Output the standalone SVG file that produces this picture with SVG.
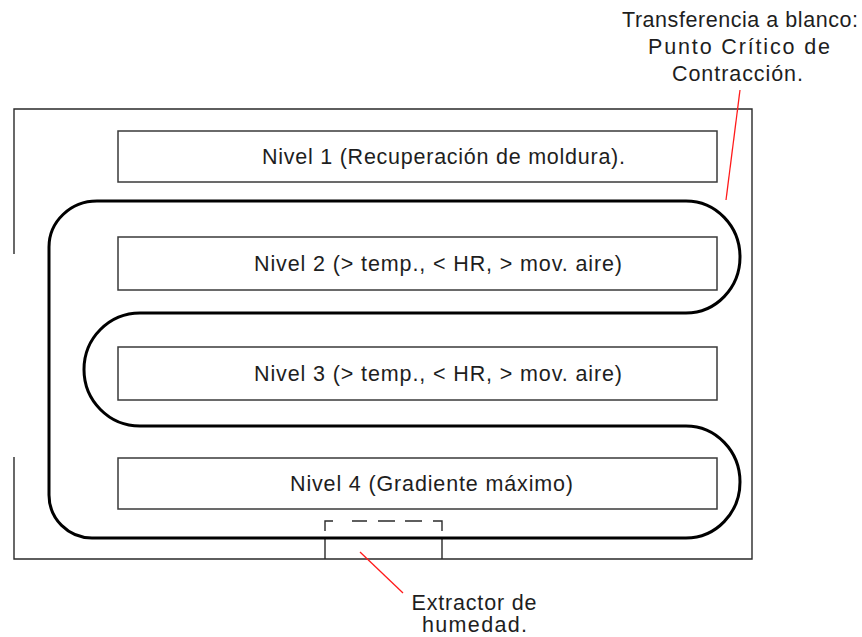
<svg xmlns="http://www.w3.org/2000/svg" width="862" height="637" viewBox="0 0 862 637">
<style>
.t{font-family:"Liberation Sans",Arial,sans-serif;font-size:21.5px;fill:#1e1e1e;text-anchor:middle}
.box{fill:none;stroke:#3a3a3a;stroke-width:1.5}
.frame{fill:none;stroke:#2a2a2a;stroke-width:1.4}
.flow{fill:none;stroke:#000;stroke-width:3}
.lead{fill:none;stroke:#ff1a1a;stroke-width:1.3}
</style>
<rect width="862" height="637" fill="#fff"/>
<g id="chamber">
<path class="frame" d="M14,254 V109 H752 V559 H14 V457"/>
</g>
<g id="nivel1">
<rect class="box" x="118" y="131" width="599" height="51"/>
<text class="t" x="443.5" y="164" textLength="363" lengthAdjust="spacing">Nivel 1 (Recuperación de moldura).</text>
</g>
<g id="nivel2">
<rect class="box" x="118" y="237" width="599" height="53"/>
<text class="t" x="438" y="271" textLength="368" lengthAdjust="spacing">Nivel 2 (&gt; temp., &lt; HR, &gt; mov. aire)</text>
</g>
<g id="nivel3">
<rect class="box" x="118" y="347" width="599" height="53"/>
<text class="t" x="438" y="381" textLength="368" lengthAdjust="spacing">Nivel 3 (&gt; temp., &lt; HR, &gt; mov. aire)</text>
</g>
<g id="nivel4">
<rect class="box" x="118" y="458" width="599" height="51"/>
<text class="t" x="431.5" y="491" textLength="283" lengthAdjust="spacing">Nivel 4 (Gradiente máximo)</text>
</g>
<g id="extractor">
<path class="frame" d="M325,538 V559 M442,538 V559"/>
<path class="frame" d="M325,531 V521 H333 M352,521 H367 M378,521 H395 M405,521 H422 M433,521 H442 V531"/>
</g>
<g id="label-transferencia">
<text class="t" x="740" y="27" textLength="236" lengthAdjust="spacing">Transferencia a blanco:</text>
<text class="t" x="739" y="54" textLength="182" lengthAdjust="spacing">Punto Crítico de</text>
<text class="t" x="737.5" y="81" textLength="131" lengthAdjust="spacing">Contracción.</text>
</g>
<g id="label-extractor">
<text class="t" x="474" y="610" textLength="125" lengthAdjust="spacing">Extractor de</text>
<text class="t" x="474.5" y="632" textLength="105" lengthAdjust="spacing">humedad.</text>
</g>
<g id="connectors">
<path class="flow" d="M97,201 H686 A54,56 0 0 1 686,313 H140 A56,56.5 0 0 0 140,426 H686 A54,56 0 0 1 686,538 H92 A43,43 0 0 1 49,495 V247 A48,46 0 0 1 97,201 Z"/>
<path class="lead" d="M740,90 L726,200"/>
<path class="lead" d="M360,552 L403,593"/>
</g>
</svg>
